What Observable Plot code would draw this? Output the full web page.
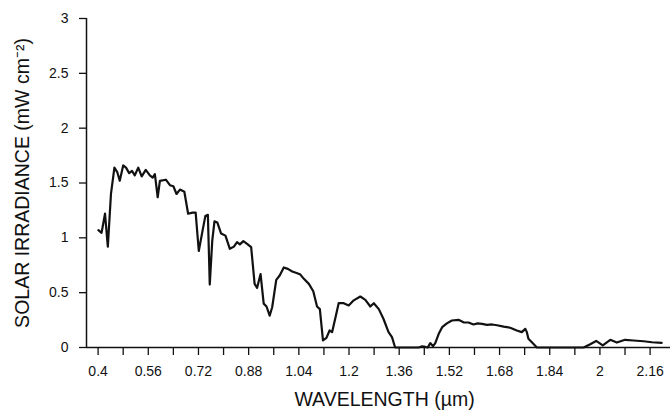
<!DOCTYPE html>
<html>
<head>
<meta charset="utf-8">
<script src="https://cdn.jsdelivr.net/npm/d3@7"></script>
<script src="https://cdn.jsdelivr.net/npm/@observablehq/plot@0.6"></script>
<style>
  html, body { margin: 0; padding: 0; background: #fff; }
  #chart svg { display: block; }
</style>
</head>
<body>
<div id="chart"></div>
<script>
// wavelength in µm
const wavelength = [
  0.401, 0.411, 0.422, 0.431, 0.441, 0.452, 0.461, 0.469, 0.480, 0.489,
  0.499, 0.508, 0.517, 0.528, 0.539, 0.552, 0.565, 0.574, 0.581, 0.590,
  0.597, 0.616, 0.629, 0.640, 0.650, 0.661, 0.675, 0.687, 0.701, 0.711,
  0.721, 0.732, 0.742, 0.750, 0.756, 0.764, 0.771, 0.780, 0.792, 0.806,
  0.820, 0.833, 0.843, 0.852, 0.863, 0.875, 0.888, 0.899, 0.907, 0.918,
  0.928, 0.937, 0.947, 0.955, 0.968, 0.979, 0.992, 1.005, 1.019, 1.035,
  1.045, 1.056, 1.072, 1.086, 1.098, 1.107, 1.117, 1.128, 1.138, 1.146,
  1.157, 1.167, 1.183, 1.199, 1.215, 1.236, 1.252, 1.268, 1.279, 1.295,
  1.310, 1.326, 1.337, 1.347, 1.422, 1.433, 1.444, 1.451, 1.459, 1.468,
  1.475, 1.486, 1.497, 1.512, 1.528, 1.549, 1.565, 1.581, 1.597, 1.610,
  1.624, 1.640, 1.656, 1.672, 1.693, 1.714, 1.735, 1.751, 1.762, 1.767,
  1.772, 1.783, 1.799, 1.948, 1.969, 1.988, 2.009, 2.033, 2.054, 2.080,
  2.107, 2.139, 2.166, 2.197
];
// solar irradiance in mW cm^-2
const irradiance = [
  1.07, 1.045, 1.22, 0.92, 1.40, 1.64, 1.60, 1.52, 1.66, 1.64,
  1.59, 1.61, 1.57, 1.64, 1.56, 1.62, 1.57, 1.55, 1.58, 1.37,
  1.52, 1.53, 1.48, 1.47, 1.40, 1.44, 1.42, 1.22, 1.23, 1.23,
  0.88, 1.05, 1.20, 1.21, 0.574, 0.975, 1.15, 1.14, 1.04, 1.02,
  0.90, 0.92, 0.96, 0.94, 0.97, 0.945, 0.915, 0.58, 0.544, 0.67,
  0.40, 0.374, 0.29, 0.367, 0.617, 0.656, 0.73, 0.717, 0.693, 0.677,
  0.665, 0.626, 0.58, 0.513, 0.374, 0.35, 0.064, 0.088, 0.155, 0.14,
  0.276, 0.404, 0.404, 0.383, 0.43, 0.465, 0.435, 0.374, 0.404, 0.35,
  0.26, 0.14, 0.094, 0.0, 0.0, 0.01, 0.005, 0.0, 0.04, 0.012,
  0.04, 0.125, 0.185, 0.22, 0.246, 0.252, 0.23, 0.228, 0.21, 0.22,
  0.216, 0.207, 0.21, 0.203, 0.19, 0.18, 0.155, 0.14, 0.17, 0.14,
  0.08, 0.048, 0.0, 0.0, 0.03, 0.06, 0.02, 0.07, 0.045, 0.07,
  0.064, 0.057, 0.048, 0.043
];

const xTicksAll = [0.4, 0.48, 0.56, 0.64, 0.72, 0.8, 0.88, 0.96, 1.04, 1.12, 1.2, 1.28,
  1.36, 1.44, 1.52, 1.6, 1.68, 1.76, 1.84, 1.92, 2, 2.08, 2.16];
const xTickLabels = [0.4, 0.56, 0.72, 0.88, 1.04, 1.2, 1.36, 1.52, 1.68, 1.84, 2, 2.16];
const yTicks = [0, 0.5, 1, 1.5, 2, 2.5, 3];
const xTitle = "WAVELENGTH (µm)";
const yTitle = "SOLAR IRRADIANCE (mW cm⁻²)";

const data = wavelength.map((w, i) => ({w, v: irradiance[i]}));
const xDomain = [0.363, 2.225];

const chart = Plot.plot({
  width: 672,
  height: 415,
  marginLeft: 86,
  marginRight: 2,
  marginTop: 18,
  marginBottom: 68,
  style: {fontFamily: "'Liberation Sans', Arial, Helvetica, sans-serif", color: "#111", background: "#fff"},
  x: {domain: xDomain},
  y: {domain: [0, 3]},
  marks: [
    Plot.axisY({ticks: yTicks, tickSize: 7, tickPadding: 11, label: null, fontSize: 14,
      tickFormat: d => String(d), stroke: "#111", strokeWidth: 1.3}),
    Plot.axisX({ticks: xTicksAll, tickSize: 8, label: null, tickFormat: () => "",
      stroke: "#111", strokeWidth: 1.3}),
    Plot.axisX({ticks: xTickLabels, tickSize: 0, tickPadding: 19, label: null, fontSize: 14,
      tickFormat: d => String(d)}),
    Plot.ruleX([xDomain[0]], {y1: 0, y2: 3, stroke: "#111", strokeWidth: 1.5}),
    Plot.ruleY([0], {stroke: "#111", strokeWidth: 1.3}),
    Plot.line(data, {x: "w", y: "v", stroke: "#111", strokeWidth: 2.2, strokeLinejoin: "round"}),
    Plot.text([xTitle], {frameAnchor: "bottom", dy: 52, dx: 6, fontSize: 19.5, lineAnchor: "middle", fill: "#111"}),
    Plot.text([yTitle], {frameAnchor: "left", dx: -64, rotate: -90, fontSize: 19.5, textAnchor: "middle", lineAnchor: "middle", fill: "#111"})
  ]
});
document.getElementById("chart").appendChild(chart);
</script>
</body>
</html>
